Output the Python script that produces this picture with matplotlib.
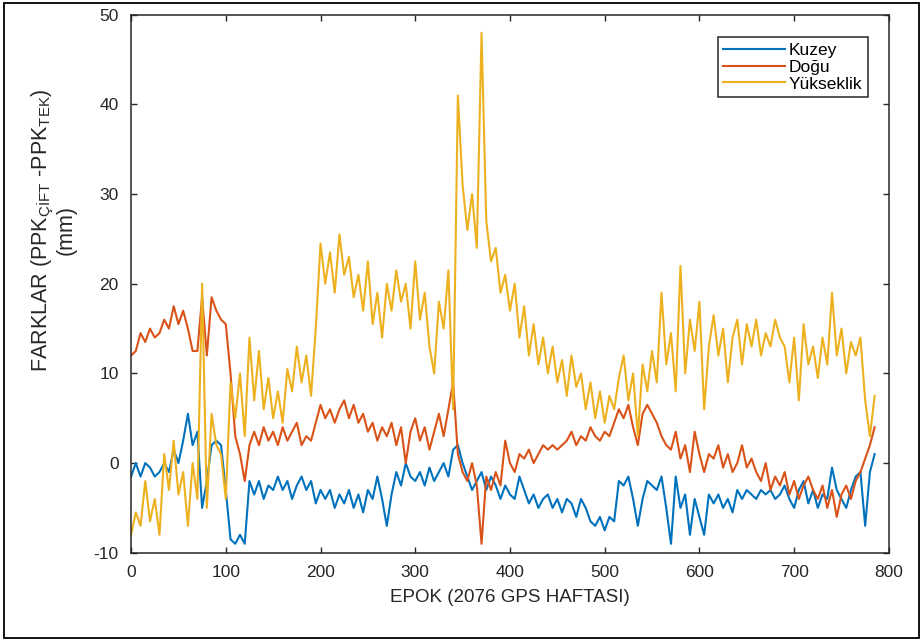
import numpy as np
import matplotlib
matplotlib.use('Agg')
import matplotlib.pyplot as plt
from matplotlib import font_manager
from matplotlib.patches import Rectangle

# epochs sampled every 5
epochs = np.arange(0, 790, 5)

kuzey = [
    -1.5, 0, -1.5, 0, -0.5, -1.5, -1, 0, -1, 1.5,
    0, 2.5, 5.5, 2, 3.5, -5, -2, 2, 2.5, 2,
    -3, -8.5, -9, -8, -9, -2, -3.5, -2, -4, -2.5,
    -3, -1.5, -3, -2, -4, -2.5, -1.5, -3, -2, -4.5,
    -3, -4, -3, -5, -3.5, -4.5, -3, -5, -3.5, -5.5,
    -3, -4, -1.5, -4, -7, -3.5, -1, -2.5, 0, -1.5,
    -2, -1, -2.5, -0.5, -2, -1, 0, -1.5, 1.5, 2,
    0, -1.5, -3, -2, -1, -3, -1.5, -2.5, -4, -2.5,
    -3.5, -4, -1.5, -3, -4.5, -3.5, -5, -4, -3.5, -5,
    -4, -5.5, -4, -4.5, -6, -4, -5, -6.5, -7, -6,
    -7.5, -6, -6.5, -2, -2.5, -1.5, -4, -7, -4, -2,
    -2.5, -3, -1.5, -5, -9, -1.5, -5, -3.5, -8, -4,
    -6, -8, -3.5, -4.5, -3.5, -5, -4, -5.5, -3, -4,
    -3, -3.5, -4, -3, -3.5, -3, -4, -3.5, -2.5, -4,
    -5, -3, -2, -4.5, -3, -5, -3.5, -4, -0.5, -3,
    -4, -5, -3, -1.5, -1, -7, -1, 1,
]

dogu = [
    12, 12.5, 14.5, 13.5, 15, 14, 14.5, 16, 15, 17.5,
    15.5, 17, 15, 12.5, 12.5, 18.5, 12, 18.5, 17, 16,
    15.5, 10, 3, 1, -2, 2, 3.5, 2, 4, 2.5,
    3.5, 2, 4, 2.5, 3.5, 4.5, 2, 3, 2.5, 4.5,
    6.5, 5, 6, 4.5, 6, 7, 5, 6.5, 4.5, 5.5,
    3.5, 4.5, 2.5, 4, 3, 4.5, 2, 4, 0, 3.5,
    5, 2.5, 4, 1.5, 3.5, 5.5, 3, 6, 9, 1,
    -1, -2, 0, -2.5, -9, -1.5, -3, -1, -2.5, 2.5,
    0, -1, 1, 0.5, 1.5, 0, 1, 2, 1.5, 2,
    1.5, 2, 2.5, 3.5, 2, 3, 2.5, 4, 3, 2.5,
    3.5, 3, 4.5, 6, 5, 6.5, 4, 2, 5.5, 6.5,
    5.5, 4.5, 3, 2, 1.5, 3.5, 0.5, 2, -1, 3.5,
    1, -1, 1, 0.5, 2, -0.5, 1, -1, 0, 2,
    -0.5, 0.5, -1, -2, 0, -3, -1.5, -2.5, -1, -3.5,
    -2, -4, -2.5, -1.5, -3, -4, -2.5, -5, -3, -6,
    -3.5, -2.5, -4, -2, -1, 0.5, 2, 4,
]

yukseklik = [
    -8, -5.5, -7, -2, -6.5, -4, -8, 1, -3, 2.5,
    -3.5, -1, -7, 0, -4, 20, -5, 5.5, 2, 1,
    -4, 9, 5, 10, 3, 14, 7, 12.5, 6, 9.5,
    5, 8, 4.5, 10.5, 8, 13, 9, 12, 7.5, 15,
    24.5, 20, 23.5, 19, 25.5, 21, 23, 18.5, 21, 17,
    22.5, 15.5, 19, 14, 20, 17, 21.5, 18, 20, 15,
    22.5, 16, 19, 13, 10, 18, 15, 21.5, 6, 41,
    31, 26, 30, 24, 48, 27, 22.5, 24, 19, 21,
    17, 20, 14, 17.5, 12, 15.5, 11, 14, 10, 13,
    9, 11.5, 7.5, 12, 8.5, 10, 6, 9, 5, 8,
    4.5, 7.5, 6, 9.5, 12, 7, 10, 3, 11, 8,
    12.5, 9, 19, 11, 14.5, 8, 22, 10, 16, 12.5,
    18, 6, 13, 16.5, 12, 15, 9, 14, 16, 11,
    15.5, 13, 16, 12, 14.5, 13, 16, 14, 13, 9,
    14, 7, 15.5, 11, 13, 9.5, 14, 11, 19, 12,
    15, 10, 13.5, 12, 14, 7, 3, 7.5,
]

names = {f.name for f in font_manager.fontManager.ttflist}
if 'Liberation Sans Narrow' in names:
    narrow = 'Liberation Sans Narrow'
    tick_fs, xl_fs = 15, 16
else:
    narrow = 'Liberation Sans'
    tick_fs, xl_fs = 12.5, 13.5

plt.rcParams['mathtext.default'] = 'regular'
plt.rcParams['axes.unicode_minus'] = False
plt.rcParams['font.family'] = ['Liberation Sans', 'DejaVu Sans']

dark = '#262626'

fig = plt.figure(figsize=(9.23, 6.42), dpi=100)
ax = fig.add_axes([0.142, 0.139, 0.821, 0.838])

ax.plot(epochs, kuzey, color='#0072BD', lw=1.5, label='Kuzey')
ax.plot(epochs, dogu, color='#D95319', lw=1.5, label='Doğu')
ax.plot(epochs, yukseklik, color='#EDB120', lw=1.5, label='Yükseklik')

ax.set_xlim(0, 800)
ax.set_ylim(-10, 50)
ax.set_xticks(range(0, 801, 100))
ax.set_yticks(range(-10, 51, 10))
ax.tick_params(direction='in', top=True, right=True, length=4, width=1,
               colors=dark, labelsize=tick_fs, pad=9)
for lab in ax.get_xticklabels() + ax.get_yticklabels():
    lab.set_family(narrow)
for sp in ax.spines.values():
    sp.set_color(dark)
    sp.set_linewidth(1.1)

ax.set_xlabel('EPOK (2076 GPS HAFTASI)', fontsize=xl_fs, family=narrow,
              color=dark, labelpad=6)
ax.set_ylabel('FARKLAR (PPK$_{ÇİFT}$ -PPK$_{TEK}$)\n(mm)', fontsize=15.5,
              color=dark, linespacing=1.0)
ax.yaxis.set_label_coords(-0.072, 0.6)

leg = ax.legend(loc='upper right', bbox_to_anchor=(0.972, 0.958),
                fancybox=False, edgecolor=dark, framealpha=1,
                handlelength=3.6, handletextpad=0.2, labelspacing=0.1,
                borderpad=0.3, borderaxespad=0, fontsize=12.5)
leg.get_frame().set_linewidth(1.1)

# outer frame around the whole picture
fig.patches.append(Rectangle((0.004, 0.006), 0.992, 0.989, transform=fig.transFigure,
                             fill=False, edgecolor='black', lw=1.3))

fig.savefig('out.png', dpi=100)
